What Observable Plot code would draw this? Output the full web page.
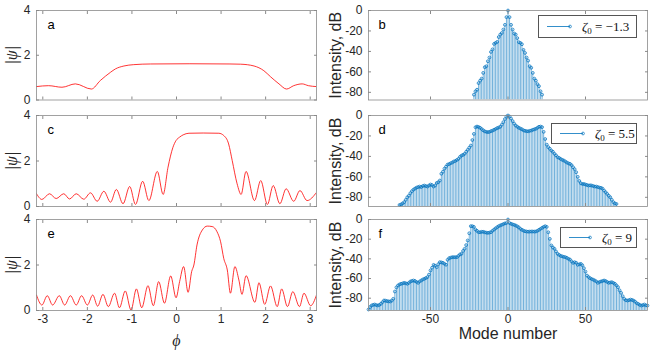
<!DOCTYPE html>
<html>
<head>
<meta charset="utf-8">
<script src="https://cdn.jsdelivr.net/npm/d3@7"></script>
<script src="https://cdn.jsdelivr.net/npm/@observablehq/plot@0.6"></script>
<style>
  body { margin: 0; background: #ffffff; }
  #chart { position: relative; width: 654px; height: 351px; overflow: hidden; background: #fff;
           font-family: "Liberation Sans", Arial, Helvetica, sans-serif; }
  #chart svg { position: absolute; top: 0; }
  .legend { position: absolute; background: #fff; border: 1px solid #555; box-sizing: border-box;
            display: flex; align-items: center; font-family: "Liberation Serif", "DejaVu Serif", serif;
            font-size: 13px; color: #111; white-space: nowrap; }
  .legend svg { position: static !important; }
  .legend sub { font-size: 9px; vertical-align: -3px; line-height: 0; }
</style>
</head>
<body>
<div id="chart"></div>
<script>
// ---------------- data ----------------
const phiTicks = [-3, -2, -1, 0, 1, 2, 3];
const psiTicks = [0, 2, 4];
const modeTicks = [-50, 0, 50];
const dbTicks = [-80, -60, -40, -20, 0];

// panel a : |psi| vs phi
const phiA = [-3.1416, -2.87, -2.57, -2.27, -1.91, -1.71, -1.48, -1.37, -1.18, -0.96, -0.58, 0.3, 1.2, 1.44, 1.74, 1.96, 2.11, 2.30, 2.47, 2.63, 2.82, 2.96, 3.1416];
const psiA = [0.60, 0.64, 0.57, 0.72, 0.49, 0.87, 1.24, 1.39, 1.52, 1.58, 1.61, 1.62, 1.61, 1.60, 1.52, 1.31, 1.04, 0.72, 0.49, 0.64, 0.72, 0.64, 0.60];

// panel c
const phiC = [-3.1416, -3.02, -2.85, -2.70, -2.53, -2.40, -2.25, -2.08, -1.93, -1.78, -1.63, -1.48, -1.35, -1.20, -1.05, -0.92, -0.76, -0.62, -0.43, -0.30, -0.19, -0.08, -0.01, 0.07, 0.15, 0.28, 0.60, 0.95, 1.06, 1.17, 1.25, 1.36, 1.45, 1.56, 1.75, 1.89, 2.04, 2.17, 2.32, 2.46, 2.63, 2.77, 2.93, 3.1416];
const psiC = [0.56, 0.31, 0.56, 0.35, 0.56, 0.33, 0.56, 0.32, 0.60, 0.23, 0.67, 0.19, 0.75, 0.12, 0.88, 0.09, 1.11, 0.26, 1.54, 0.53, 1.73, 2.60, 2.90, 3.05, 3.15, 3.22, 3.23, 3.22, 3.12, 2.75, 2.02, 1.00, 0.53, 1.54, 0.26, 1.14, 0.09, 0.92, 0.12, 0.78, 0.23, 0.70, 0.26, 0.62];

// panel e
const phiE = [-3.1416, -3.02, -2.90, -2.78, -2.63, -2.51, -2.38, -2.25, -2.13, -2.00, -1.88, -1.77, -1.65, -1.53, -1.39, -1.28, -1.15, -1.02, -0.90, -0.78, -0.64, -0.52, -0.40, -0.27, -0.13, -0.01, 0.07, 0.16, 0.26, 0.34, 0.39, 0.46, 0.58, 0.69, 0.80, 0.91, 0.99, 1.06, 1.14, 1.21, 1.31, 1.40, 1.47, 1.56, 1.76, 1.85, 1.98, 2.11, 2.26, 2.36, 2.49, 2.61, 2.76, 2.86, 3.01, 3.1416];
const psiE = [0.68, 0.24, 0.65, 0.24, 0.65, 0.24, 0.65, 0.24, 0.65, 0.24, 0.68, 0.19, 0.71, 0.17, 0.76, 0.12, 0.86, 0.02, 0.95, 0.12, 1.09, 0.21, 1.27, 0.32, 1.52, 0.56, 1.27, 1.93, 0.80, 1.71, 2.00, 2.88, 3.54, 3.71, 3.69, 3.46, 3.02, 2.29, 1.78, 0.76, 1.93, 1.34, 0.71, 1.53, 0.36, 1.22, 0.27, 1.08, 0.17, 0.95, 0.17, 0.83, 0.17, 0.76, 0.21, 0.68];

// panel b : intensity (dB) per mode, modes -22..22
const modesB = d3.range(-22, 23);
const dbB = [-82.3, -79, -77.4, -71, -68.6, -66.6, -61, -55.5, -54.5, -49.6, -46, -40.5, -38, -32.7, -31.7, -30.7, -26, -23.5, -22, -18.6, -14, -6.5,
             0,
             -6.5, -14, -18.6, -22.5, -23.5, -27, -31, -31.7, -33, -38.5, -41.5, -46, -49, -54.5, -56, -61, -66.6, -68.6, -72, -74, -79, -82.3];

// panel d : modes -70..70
const modesD = d3.range(-70, 71);
const dbD = [-87.5, -87, -86, -84.8, -82.5, -80, -78.5, -76, -74, -72.5, -71.5, -70.5, -70, -69.5, -70, -69, -68.5, -69, -69.5, -68.5,
             -67.5, -68, -69.5, -68.5, -66, -65.3, -63.6, -57, -55, -52, -50, -48, -47.5, -46.7, -46, -45, -44.5, -43.5, -42.5, -40.5,
             -39.2, -38.5, -37.5, -35.5, -33.6, -31.5, -29.4, -24, -18, -11.5, -10.8, -11.2, -12, -13.2, -14.5, -15.5, -16, -16.3, -16, -15.3,
             -14.8, -14, -13.2, -12.3, -11.8, -11, -9, -6.5, -3.5, -1,
             0,
             -1, -3, -5.5, -8, -9.8, -11, -12, -12.8, -13.5, -14.5, -15, -15.3, -15.5, -15, -14.7, -14, -13.5, -13, -12, -11,
             -10.8, -11.4, -16, -23, -28.5, -31, -32.5, -34.3, -35.5, -37.5, -39, -40.8, -41.5, -42.5, -43.4, -44, -45, -46, -46.8, -47.3,
             -48.5, -50.6, -52.5, -55.5, -60, -64, -66.3, -67, -67, -67.5, -68, -68.5, -68.3, -68.5, -69, -69.5, -69.5, -70, -70.5, -70.8,
             -71.5, -73.4, -75, -76.7, -78.5, -80, -82.5, -84.8, -86, -86.5];

// panel f : modes -90..90
const modesF = d3.range(-90, 91);
const dbF = [-91.5, -89, -87.4, -86.8, -86.4, -87, -87.4, -86.8, -85.7, -84, -82.3, -82.5, -83, -83.2, -83.4, -82.5, -80.6, -73.2, -69, -67.1,
             -66, -65.4, -65, -64.4, -64.8, -65.4, -64.5, -63, -62.5, -62, -62.5, -63.5, -64.4, -63, -62, -61, -60.3, -59.5, -58.6, -56,
             -51.8, -49, -46.1, -47, -48.5, -45.5, -43.4, -43.6, -44, -45, -46, -41, -39.3, -38.8, -38.3, -38.3, -38.3, -38.3, -37, -35.5,
             -34.9, -32, -29.8, -26, -21.3, -14, -6.8, -6.8, -7.5, -10.2, -11.5, -12.9, -13, -12.5, -12.5, -13, -13.4, -13.6, -13.3, -12.9,
             -11.5, -10.2, -9, -7.8, -6.8, -6, -5.4, -4.6, -4, -3.6,
             0,
             -3.6, -4.4, -5, -5.5, -6.1, -7, -8, -9.5, -10.5, -11.3, -12, -12.2, -12.4, -12.3, -12.2, -12.2, -12.3, -12.2, -11.5, -10.5,
             -9.5, -8.5, -7.5, -6.8, -7.5, -13, -19.7, -26.4, -28.5, -29.8, -32.5, -34.9, -36, -37, -37.5, -38, -38.3, -39, -40, -40.7,
             -42.5, -44.1, -43.4, -44, -46.1, -45.5, -45.1, -46.5, -49.5, -53, -57, -58.5, -59.7, -60.5, -61.2, -62, -63, -64.4, -63.5, -63,
             -62.5, -62, -62.5, -63.5, -64.4, -64, -63.7, -64.5, -65.4, -67, -68.8, -72, -74.6, -78, -80.7, -82, -82.4, -82, -81.4, -81.8,
             -82.4, -83.5, -85, -85.8, -86.8, -87.5, -87, -86.4, -87.3, -87.5];

const zetaLabels = ["−1.3", "5.5", "9"];

// ---------------- layout / style ----------------
const W = 654, H = 351;
const rows = [[10, 99.5], [115, 206], [219, 310]];
const frameColor = "#8a8a8a";
const textColor = "#262626";
const blue = "#0072BD";
const fmt = d => String(d);
const serif = "'Liberation Serif', 'DejaVu Serif', serif";
const sans = "'Liberation Sans', Arial, Helvetica, sans-serif";
const chart = document.getElementById("chart");

function baseStyle() {
  return {background: "transparent", overflow: "visible", fontFamily: sans, fontSize: "12px", color: textColor};
}

function leftPanel(phi, psi, letter, row, showX) {
  const [top, bottom] = rows[row];
  const data = phi.map((p, i) => ({phi: p, psi: psi[i]}));
  const svg = Plot.plot({
    width: 330, height: H,
    marginLeft: 36, marginRight: 14, marginTop: top, marginBottom: H - bottom,
    style: baseStyle(),
    x: {domain: [-Math.PI, Math.PI]},
    y: {domain: [0, 4]},
    marks: [
      Plot.line(data, {x: "phi", y: "psi", stroke: "#ff0000", strokeWidth: 0.8, curve: "monotone-x", clip: true}),
      Plot.frame({stroke: frameColor, strokeWidth: 0.8}),
      Plot.axisX(phiTicks, {anchor: "bottom", tickSize: -3, tickPadding: 7, tickFormat: fmt, label: null,
                            stroke: frameColor, fill: showX ? textColor : "none", fontSize: 12}),
      Plot.axisX(phiTicks, {anchor: "top", tickSize: -3, label: null, stroke: frameColor, fill: "none"}),
      Plot.axisY(psiTicks, {anchor: "left", tickSize: -3, tickPadding: 9, tickFormat: fmt, label: null,
                            stroke: frameColor, fill: textColor, fontSize: 12}),
      Plot.axisY(psiTicks, {anchor: "right", tickSize: -3, label: null, stroke: frameColor, fill: "none"}),
      Plot.text([letter], {frameAnchor: "top-left", dx: 11, dy: 14, text: d => d, fontSize: 13, fill: "#000",
                           textAnchor: "start", lineAnchor: "middle"}),
      Plot.text(["|ψ|"], {frameAnchor: "left", dx: -25, rotate: -90, text: d => d, fontFamily: serif, fontStyle: "italic",
                          fontSize: 16, fill: textColor, textAnchor: "middle", lineAnchor: "middle"}),
      showX ? Plot.text(["ϕ"], {frameAnchor: "bottom", dy: 30, text: d => d, fontFamily: serif, fontStyle: "italic",
                                fontSize: 16, fill: textColor, textAnchor: "middle", lineAnchor: "middle"}) : null
    ]
  });
  svg.style.left = "0px";
  chart.appendChild(svg);
}

function rightPanel(modes, vals, yMin, letter, row, showX) {
  const [top, bottom] = rows[row];
  const data = modes.map((m, i) => ({m, v: vals[i]}));
  const svg = Plot.plot({
    width: 324, height: H,
    marginLeft: 38, marginRight: 7, marginTop: top, marginBottom: H - bottom,
    style: baseStyle(),
    x: {domain: [-90, 90]},
    y: {domain: [yMin, 0]},
    marks: [
      Plot.ruleX(data, {x: "m", y1: yMin, y2: "v", stroke: blue, strokeWidth: 0.55, clip: true}),
      Plot.dot(data, {x: "m", y: "v", r: 1.4, stroke: blue, strokeWidth: 0.75, fill: "none"}),
      Plot.frame({stroke: frameColor, strokeWidth: 0.8}),
      Plot.axisX(modeTicks, {anchor: "bottom", tickSize: -3, tickPadding: 7, tickFormat: fmt, label: null,
                             stroke: frameColor, fill: showX ? textColor : "none", fontSize: 12}),
      Plot.axisX(modeTicks, {anchor: "top", tickSize: -3, label: null, stroke: frameColor, fill: "none"}),
      Plot.axisY(dbTicks, {anchor: "left", tickSize: -3, tickPadding: 9, tickFormat: fmt, label: null,
                           stroke: frameColor, fill: textColor, fontSize: 12}),
      Plot.axisY(dbTicks, {anchor: "right", tickSize: -3, label: null, stroke: frameColor, fill: "none"}),
      Plot.text([letter], {frameAnchor: "top-left", dx: 10, dy: 14, text: d => d, fontSize: 13, fill: "#000",
                           textAnchor: "start", lineAnchor: "middle"}),
      Plot.text(["Intensity, dB"], {frameAnchor: "left", dx: -33, rotate: -90, text: d => d, fontSize: 16, fill: textColor,
                                    textAnchor: "middle", lineAnchor: "middle"}),
      showX ? Plot.text(["Mode number"], {frameAnchor: "bottom", dy: 23, text: d => d, fontSize: 16, fill: textColor,
                                          textAnchor: "middle", lineAnchor: "middle"}) : null
    ]
  });
  svg.style.left = "330px";
  chart.appendChild(svg);
}

function legend(label, left, top, width, height, lineLen) {
  const div = document.createElement("div");
  div.className = "legend";
  Object.assign(div.style, {left: left + "px", top: top + "px", width: width + "px", height: height + "px"});
  const pad = 8;
  div.innerHTML =
    `<svg width="${lineLen + pad + 6}" height="${height - 2}" style="flex:none">` +
    `<line x1="${pad}" x2="${pad + lineLen}" y1="${(height - 2) / 2}" y2="${(height - 2) / 2}" stroke="${blue}" stroke-width="0.8"/>` +
    `<circle cx="${pad + lineLen}" cy="${(height - 2) / 2}" r="1.4" fill="none" stroke="${blue}" stroke-width="0.7"/></svg>` +
    `<span style="margin-left:6px"><i>ζ</i><sub>0</sub> = ${label}</span>`;
  chart.appendChild(div);
}

leftPanel(phiA, psiA, "a", 0, false);
leftPanel(phiC, psiC, "c", 1, false);
leftPanel(phiE, psiE, "e", 2, true);
rightPanel(modesB, dbB, -87.5, "b", 0, false);
rightPanel(modesD, dbD, -89, "d", 1, false);
rightPanel(modesF, dbF, -92.5, "f", 2, true);
legend(zetaLabels[0], 538, 15, 99, 23, 23);
legend(zetaLabels[1], 551, 123, 86, 21, 23);
legend(zetaLabels[2], 560, 227, 77, 21, 21);
</script>
</body>
</html>
